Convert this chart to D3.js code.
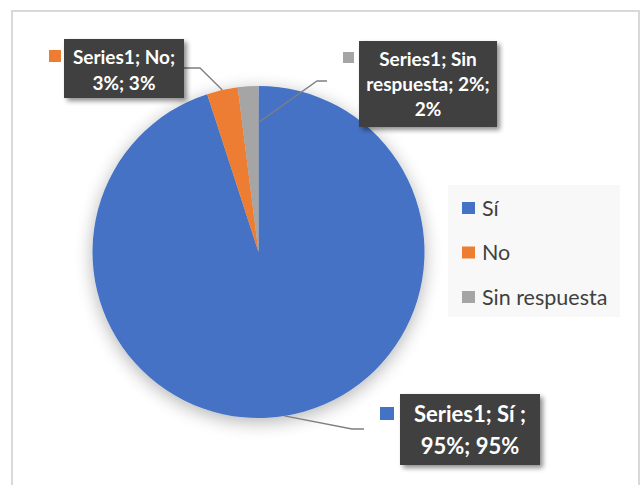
<!DOCTYPE html>
<html>
<head>
<meta charset="utf-8">
<script src="https://cdn.jsdelivr.net/npm/d3@7"></script>
<style>
  html, body { margin: 0; padding: 0; background: #ffffff; }
  svg { display: block; }
</style>
</head>
<body>
<div id="chart"></div>
<script>
// Survey answers and their shares (percent)
const categories = ["Sí", "No", "Sin respuesta"];
const values = [95, 3, 2];
const seriesName = "Series1";
const colors = ["#4472C4", "#ED7D31", "#A5A5A5"];

const W = 641, H = 485;
const cx = 258.5, cy = 252, radius = 166;

const svg = d3.select("#chart").append("svg")
  .attr("width", W).attr("height", H)
  .style("font-family", "Lato, 'Open Sans', sans-serif");

const defs = svg.append("defs");
const pieShadow = defs.append("filter").attr("id", "pieShadow")
  .attr("x", "-30%").attr("y", "-30%").attr("width", "160%").attr("height", "160%");
pieShadow.append("feGaussianBlur").attr("in", "SourceAlpha").attr("stdDeviation", 9).attr("result", "b");
pieShadow.append("feOffset").attr("in", "b").attr("dx", 0).attr("dy", 4).attr("result", "o");
pieShadow.append("feComponentTransfer").attr("in", "o").attr("result", "s")
  .append("feFuncA").attr("type", "linear").attr("slope", 0.3);
const pm = pieShadow.append("feMerge");
pm.append("feMergeNode").attr("in", "s");
pm.append("feMergeNode").attr("in", "SourceGraphic");

const boxShadow = defs.append("filter").attr("id", "boxShadow")
  .attr("x", "-20%").attr("y", "-20%").attr("width", "140%").attr("height", "150%");
boxShadow.append("feGaussianBlur").attr("in", "SourceAlpha").attr("stdDeviation", 2.5).attr("result", "b");
boxShadow.append("feOffset").attr("in", "b").attr("dx", 3).attr("dy", 3).attr("result", "o");
boxShadow.append("feComponentTransfer").attr("in", "o").attr("result", "s")
  .append("feFuncA").attr("type", "linear").attr("slope", 0.45);
const bm = boxShadow.append("feMerge");
bm.append("feMergeNode").attr("in", "s");
bm.append("feMergeNode").attr("in", "SourceGraphic");

// chart area frame
svg.append("rect")
  .attr("x", 12).attr("y", 11).attr("width", 627).attr("height", 500)
  .attr("fill", "#ffffff").attr("stroke", "#d9d9d9").attr("stroke-width", 2);

const data = categories.map((c, i) => ({ cat: c, value: values[i], color: colors[i] }));
const arcs = d3.pie().sort(null).value(d => d.value)(data);
const arc = d3.arc().innerRadius(0).outerRadius(radius);

const pieG = svg.append("g").attr("transform", `translate(${cx},${cy})`);
pieG.append("g").attr("filter", "url(#pieShadow)")
  .selectAll("path").data(arcs).join("path")
  .attr("d", arc)
  .attr("fill", d => d.data.color);

// data label placement: box, key square, anchor on the slice
const labelLayout = [
  { box: [400, 394, 140, 71], key: [380, 407, 14, 13], size: 22, lead: 32, base: 422,
    lines: d => [`${seriesName}; ${d.data.cat} ;`, `${d.data.value}%; ${d.data.value}%`],
    elbow: [352, 429], start: [364, 429], at: 0.5, rf: 1.0 },
  { box: [64, 39, 120, 59], key: [49, 50, 12, 12], size: 19, lead: 26, base: 64,
    lines: d => [`${seriesName}; ${d.data.cat};`, `${d.data.value}%; ${d.data.value}%`],
    elbow: [200, 68], start: [184, 68], at: 0.5, rf: 1.0 },
  { box: [359, 41, 138, 86], key: [343, 52, 11, 11], size: 19, lead: 25, base: 66,
    lines: d => [`${seriesName}; Sin`, `respuesta; ${d.data.value}%;`, `${d.data.value}%`],
    elbow: [317, 81], start: [327, 81], at: 1.0, rf: 0.78 }
];

// leader lines
arcs.forEach((a, i) => {
  const L = labelLayout[i];
  const ang = a.startAngle + (a.endAngle - a.startAngle) * L.at;
  const r = radius * L.rf;
  const px = cx + r * Math.sin(ang), py = cy - r * Math.cos(ang);
  svg.append("path")
    .attr("d", d3.line()([L.start, L.elbow, [px, py]]))
    .attr("fill", "none").attr("stroke", "#7f7f7f").attr("stroke-width", 1.3);
});

// label boxes
arcs.forEach((a, i) => {
  const L = labelLayout[i];
  const g = svg.append("g");
  g.append("rect")
    .attr("x", L.box[0]).attr("y", L.box[1]).attr("width", L.box[2]).attr("height", L.box[3])
    .attr("fill", "#404040").attr("filter", "url(#boxShadow)");
  g.append("rect")
    .attr("x", L.key[0]).attr("y", L.key[1]).attr("width", L.key[2]).attr("height", L.key[3])
    .attr("fill", a.data.color);
  g.selectAll("text").data(L.lines(a)).join("text")
    .attr("x", L.box[0] + L.box[2] / 2)
    .attr("y", (t, j) => L.base + j * L.lead)
    .attr("text-anchor", "middle")
    .attr("fill", "#ffffff")
    .attr("font-weight", "bold")
    .attr("font-size", L.size)
    .text(t => t);
});

// legend
const legend = svg.append("g");
legend.append("rect")
  .attr("x", 448).attr("y", 185).attr("width", 172).attr("height", 132)
  .attr("fill", "#f8f8f8");
const items = legend.selectAll("g.item").data(data).join("g")
  .attr("class", "item")
  .attr("transform", (d, i) => `translate(462,${202 + i * 44.5})`);
items.append("rect").attr("width", 13).attr("height", 12).attr("fill", d => d.color);
items.append("text")
  .attr("x", 20).attr("y", 13.5)
  .attr("fill", "#404040")
  .attr("font-size", 21.5)
  .text(d => d.cat);
</script>
</body>
</html>
